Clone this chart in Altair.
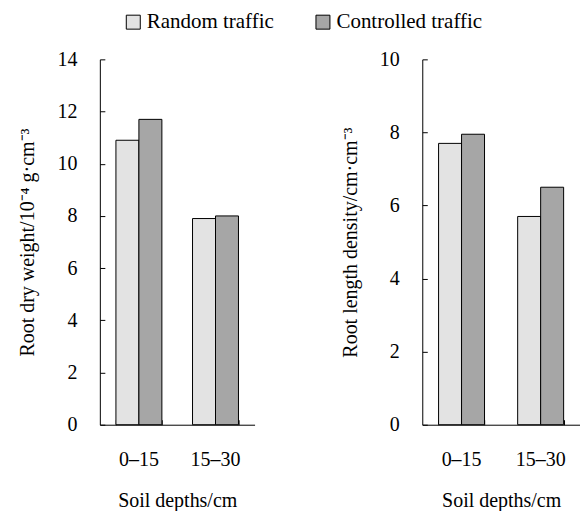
import altair as alt
import pandas as pd

depths = ["0–15", "15–30"]
treatments = ["Random traffic", "Controlled traffic"]
dry_weight_random = [10.9, 7.9]
dry_weight_controlled = [11.7, 8.0]
length_random = [7.7, 5.7]
length_controlled = [7.95, 6.5]
ticks_weight = [0, 2, 4, 6, 8, 10, 12, 14]
ticks_length = [0, 2, 4, 6, 8, 10]
colors = ["#e3e3e3", "#a6a6a6"]

FONT = "Liberation Serif"
FS = 20


def make_df(r, c):
    rows = []
    for i, d in enumerate(depths):
        rows.append({"depth": d, "treatment": treatments[0], "value": r[i]})
        rows.append({"depth": d, "treatment": treatments[1], "value": c[i]})
    return pd.DataFrame(rows)


color = alt.Color(
    "treatment:N",
    sort=treatments,
    scale=alt.Scale(domain=treatments, range=colors),
    legend=alt.Legend(
        title=None, orient="none", legendX=23, legendY=-48,
        direction="horizontal", symbolType="square", symbolSize=196,
        symbolStrokeColor="black", symbolStrokeWidth=1, symbolOpacity=1,
        labelFontSize=21, labelFont=FONT, labelColor="black",
        labelOffset=3, columnPadding=38, padding=0,
    ),
)


def panel(df, ymax, yticks, ytitle, width, pin, pout):
    xscale = alt.Scale(domain=depths, paddingInner=pin, paddingOuter=pout)
    yscale = alt.Scale(domain=[0, ymax], nice=False)
    base = alt.Chart(df)
    bars = base.mark_bar(stroke="black", strokeWidth=1).encode(
        x=alt.X("depth:N", scale=xscale, sort=depths,
                axis=alt.Axis(title="Soil depths/cm", labelAngle=0, ticks=False,
                              labelPadding=25, titlePadding=21)),
        xOffset=alt.XOffset("treatment:N", sort=treatments,
                            scale=alt.Scale(domain=treatments, paddingInner=0, paddingOuter=0)),
        y=alt.Y("value:Q", scale=yscale, stack=None,
                axis=alt.Axis(title=ytitle, values=yticks, ticks=False, grid=False,
                              labelPadding=23, titlePadding=19)),
        color=color,
    )
    tick_layer = base.mark_point(opacity=0).encode(
        x=alt.X("depth:N", scale=xscale, sort=depths,
                axis=alt.Axis(orient="bottom", title=None, labels=False, domain=False,
                              ticks=True, tickBand="extent", tickSize=5, offset=-5,
                              tickColor="black", tickWidth=1)),
        y=alt.Y("value:Q", scale=yscale, stack=None,
                axis=alt.Axis(orient="left", title=None, labels=False, domain=False,
                              values=yticks, ticks=True, tickSize=5, offset=-5,
                              grid=False, tickColor="black", tickWidth=1)),
    )
    return alt.layer(bars, tick_layer).resolve_axis(
        x="independent", y="independent"
    ).properties(width=width, height=366)


left = panel(make_df(dry_weight_random, dry_weight_controlled), 14, ticks_weight,
             "Root dry weight/10⁻⁴ g·cm⁻³", 155, 0.40, 0.21)
right = panel(make_df(length_random, length_controlled), 10, ticks_length,
              "Root length density/cm·cm⁻³", 158, 0.418, 0.206)

chart = alt.hconcat(left, right, spacing=86).properties(
    padding={"left": 10, "top": 3, "right": 0, "bottom": 0}
).configure_view(stroke=None).configure_axis(
    labelFont=FONT, titleFont=FONT, labelFontSize=FS, titleFontSize=FS,
    labelColor="black", titleColor="black", titleFontWeight="normal",
    domainColor="black", domainWidth=1,
)

chart.save("out.html", embed_options={"renderer": "svg", "actions": False})
